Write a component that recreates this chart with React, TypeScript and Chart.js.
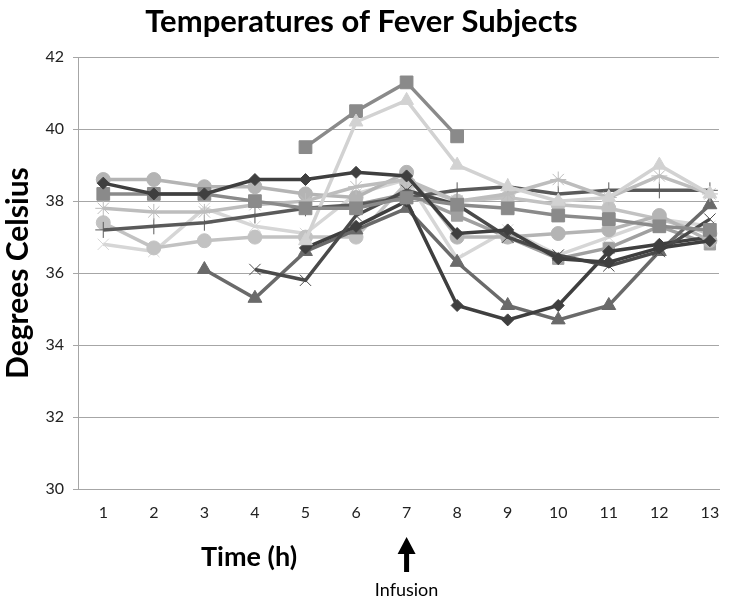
import React, { useEffect, useRef } from "react";
import { Chart, registerables } from "chart.js";

Chart.register(...registerables);

const n = null;
const hours = [1, 2, 3, 4, 5, 6, 7, 8, 9, 10, 11, 12, 13];
const yTickValues = [30, 32, 34, 36, 38, 40, 42];
const infusionHour = 7;

const subjectA = [38.5, 38.2, 38.2, 38.6, 38.6, 38.8, 38.7, 37.1, 37.2, 36.4, 36.3, 36.7, 36.9];
const subjectB = [38.2, 38.2, 38.2, 38.0, 37.8, 37.8, 38.1, 37.9, 37.8, 37.6, 37.5, 37.3, 37.2];
const subjectC = [n, n, n, n, 36.9, 40.2, 40.8, 39.0, 38.4, 38.0, 38.1, 39.0, 38.2];
const subjectD = [n, n, n, 36.1, 35.8, 37.6, 38.3, 37.9, 37.0, 36.5, 36.2, 36.6, 37.5];
const subjectE = [37.8, 37.7, 37.7, 37.9, 38.0, 38.4, 38.6, 38.0, 38.2, 38.6, 38.1, 38.7, 38.2];
const subjectF = [38.6, 38.6, 38.4, 38.4, 38.2, 38.1, 38.8, 37.0, 37.0, 37.1, 37.2, 37.6, 36.9];
const subjectG = [37.2, 37.3, 37.4, 37.6, 37.8, 37.9, 38.1, 38.3, 38.4, 38.2, 38.3, 38.3, 38.3];
const subjectH = [n, n, n, n, 36.7, 37.3, 38.0, 35.1, 34.7, 35.1, 36.6, 36.8, 37.0];
const subjectI = [n, n, 36.1, 35.3, 36.6, 37.2, 37.8, 36.3, 35.1, 34.7, 35.1, 36.6, 37.9];
const subjectJ = [37.4, 36.7, 36.9, 37.0, 37.0, 37.0, 38.5, 38.0, 38.1, 37.9, 37.8, 37.5, 37.1];
const subjectK = [n, n, n, n, 39.5, 40.5, 41.3, 39.8, n, n, n, n, n];
const subjectL = [36.8, 36.6, 37.8, 37.3, 37.1, 38.2, 38.6, 36.4, 37.2, 36.5, 37.0, 37.5, 37.3];
const subjectM = [n, n, n, n, n, 37.9, 38.2, 37.6, 37.0, 36.4, 36.7, 37.3, 36.8];

const FONT = "Lato, 'Open Sans', sans-serif";

function toPoints(values: (number | null)[]) {
  return hours.map((h, i) => ({ x: h, y: values[i] }));
}

function makeSet(label: string, values: (number | null)[], color: string, style: string, radius: number, markerBorder = 1) {
  return {
    label,
    data: toPoints(values),
    borderColor: color,
    backgroundColor: color,
    borderWidth: 3.5,
    pointStyle: style,
    pointRadius: radius,
    pointBackgroundColor: color,
    pointBorderColor: color,
    pointBorderWidth: markerBorder,
    spanGaps: false,
    tension: 0,
  };
}

const annotations = {
  id: "annotations",
  afterDraw(chart: any) {
    const ctx = chart.ctx;
    const x7 = chart.scales.x.getPixelForValue(infusionHour);
    ctx.save();
    ctx.fillStyle = "#000";
    ctx.textAlign = "center";
    ctx.textBaseline = "middle";
    ctx.font = `bold 27px ${FONT}`;
    ctx.fillText("Time (h)", 249, 557);
    ctx.beginPath();
    ctx.moveTo(x7, 537);
    ctx.lineTo(x7 + 9, 554);
    ctx.lineTo(x7 + 2.5, 554);
    ctx.lineTo(x7 + 2.5, 572);
    ctx.lineTo(x7 - 2.5, 572);
    ctx.lineTo(x7 - 2.5, 554);
    ctx.lineTo(x7 - 9, 554);
    ctx.closePath();
    ctx.fill();
    ctx.font = `18px ${FONT}`;
    ctx.fillText("Infusion", x7, 590);
    ctx.restore();
  },
};

export default function App() {
  const ref = useRef<HTMLCanvasElement>(null);
  useEffect(() => {
    document.body.style.margin = "0";
    const canvas = ref.current!;
    const chart = new Chart(canvas, {
      type: "line",
      data: {
        datasets: [
          makeSet("Subject 1", subjectA, "#3f3f3f", "rectRot", 6),
          makeSet("Subject 2", subjectB, "#8a8a8a", "rect", 9),
          makeSet("Subject 3", subjectC, "#d2d2d2", "triangle", 8),
          makeSet("Subject 4", subjectD, "#4a4a4a", "crossRot", 8),
          makeSet("Subject 5", subjectE, "#bdbdbd", "star", 8),
          makeSet("Subject 6", subjectF, "#b4b4b4", "circle", 7),
          makeSet("Subject 7", subjectG, "#5a5a5a", "cross", 8),
          makeSet("Subject 8", subjectH, "#3f3f3f", "rectRot", 6),
          makeSet("Subject 9", subjectI, "#6a6a6a", "triangle", 8),
          makeSet("Subject 10", subjectJ, "#c2c2c2", "circle", 7),
          makeSet("Subject 11", subjectK, "#8a8a8a", "rect", 9),
          makeSet("Subject 12", subjectL, "#d6d6d6", "crossRot", 8),
          makeSet("Subject 13", subjectM, "#a0a0a0", "rect", 8),
        ] as any,
      },
      options: {
        animation: false,
        responsive: false,
        layout: { padding: { left: 0, right: 6, top: 0, bottom: 0 } },
        plugins: {
          legend: { display: false },
          tooltip: { enabled: false },
          title: {
            display: true,
            text: "Temperatures of Fever Subjects",
            color: "#000",
            font: { family: FONT, size: 31, weight: "bold" },
            padding: { top: 3, bottom: 17 },
          },
        },
        scales: {
          x: {
            type: "linear",
            min: 0.5,
            max: 13.18,
            grid: { display: false },
            border: { display: true, color: "#a6a6a6" },
            ticks: { color: "#222", font: { family: FONT, size: 16 }, padding: 6 },
            afterBuildTicks: (s: any) => {
              s.ticks = hours.map((v) => ({ value: v }));
            },
            afterFit: (s: any) => {
              s.height = 113;
            },
          },
          y: {
            type: "linear",
            min: 30,
            max: 42,
            grid: { color: "#a6a6a6", tickLength: 5 },
            border: { color: "#a6a6a6" },
            ticks: { color: "#222", font: { family: FONT, size: 16 }, padding: 9 },
            afterBuildTicks: (s: any) => {
              s.ticks = yTickValues.map((v) => ({ value: v }));
            },
            title: {
              display: true,
              text: "Degrees Celsius",
              color: "#000",
              font: { family: FONT, size: 30, weight: "bold" },
              padding: { top: 0, bottom: 0 },
            },
            afterFit: (s: any) => {
              s.width = 78;
            },
          },
        },
      } as any,
      plugins: [annotations],
    });
    return () => chart.destroy();
  }, []);
  return (
    <div style={{ position: "absolute", left: 0, top: 0, width: 729, height: 602, background: "#fff" }}>
      <canvas ref={ref} width={729} height={602} style={{ display: "block" }} />
    </div>
  );
}
